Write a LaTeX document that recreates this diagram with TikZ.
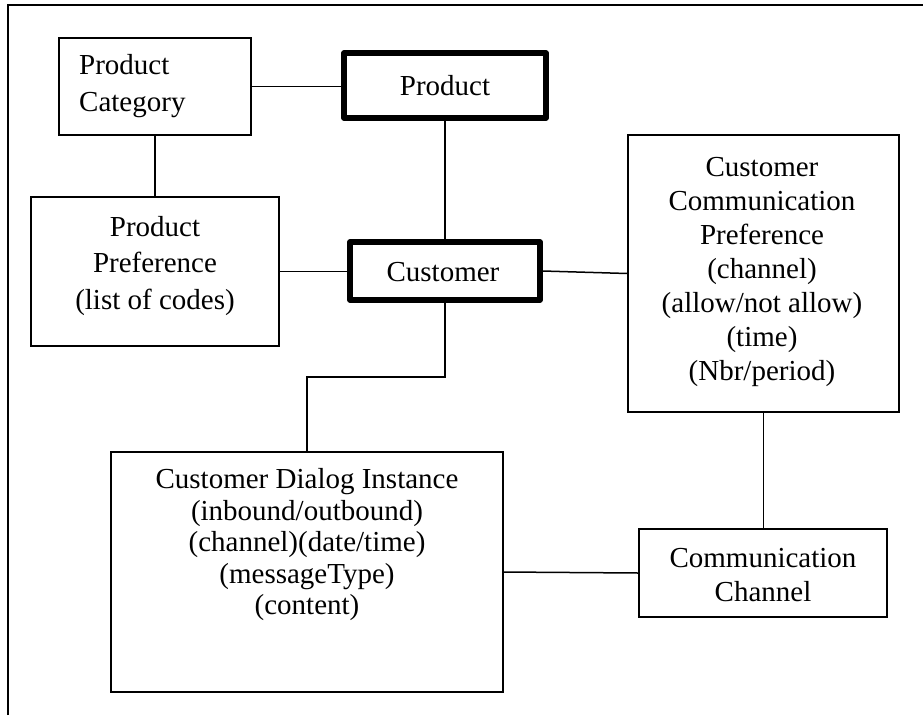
\documentclass[tikz,border=0pt]{standalone}
\usepackage{fontspec}
\setmainfont{Liberation Serif}
\begin{document}
\begin{tikzpicture}[x=1pt,y=-1pt,
  entity/.style={draw, line width=1.4pt, rectangle, inner sep=0pt},
  core/.style={draw, line width=5.5pt, line join=round, rectangle, inner sep=0pt},
  txt/.style={align=center, inner sep=0pt, font=\fontsize{29}{34}\selectfont},
  widetxt/.style={txt, font=\fontsize{29}{36.5}\selectfont},
  tighttxt/.style={txt, font=\fontsize{29}{31.5}\selectfont},
  link/.style={line width=1.5pt}]
\useasboundingbox (0,0) rectangle (923,715);

% page frame (left and top edges)
\draw[line width=2pt] (8,715) -- (8,5) -- (923,5);

% entity boxes
\node[entity, minimum width=192, minimum height=97] (pc) at (155,86.5) {};
\node[core, minimum width=202, minimum height=65] (prod) at (445,85.5) {};
\node[core, minimum width=190, minimum height=58] (cust) at (445,271) {};
\node[entity, minimum width=248, minimum height=149] (pp) at (155,271.5) {};
\node[entity, minimum width=271, minimum height=277] (ccp) at (763.5,273.5) {};
\node[entity, minimum width=248, minimum height=88] (cc) at (763,573) {};
\node[entity, minimum width=392, minimum height=240] (dlg) at (307,572) {};

% entity names
\node[widetxt, align=left, anchor=west] (pcT) at (79,86) {Product\\Category};
\node[txt] (prodT) at (445,86) {Product};
\node[txt] (custT) at (443,272) {Customer};
\node[widetxt] (ppT) at (155,266) {Product\\Preference\\(list of codes)};
\node[txt] (ccpT) at (762,272) {Customer\\Communication\\Preference\\(channel)\\(allow/not allow)\\(time)\\(Nbr/period)};
\node[txt] (ccT) at (763,575) {Communication\\Channel};
\node[tighttxt] (dlgT) at (307,545) {Customer Dialog Instance\\(inbound/outbound)\\(channel)(date/time)\\(messageType)\\(content)};

% relationships
\draw[link] (pc.east) -- (pc.east -| prod.west);
\draw[link] (pc.south) -- (pp.north);
\draw[link] (prod.south) -- (cust.north);
\draw[link] (pp.east) -- (pp.east -| cust.west);
\draw[link] (cust.east) -- (ccp.west);
\draw[link] (ccp.south) -- (ccp.south |- cc.north);
\draw[link] (cust.south) -- ++(0,74) -| (dlg.north);
\draw[link] (dlg.east) -- (cc.west);
\end{tikzpicture}
\end{document}
